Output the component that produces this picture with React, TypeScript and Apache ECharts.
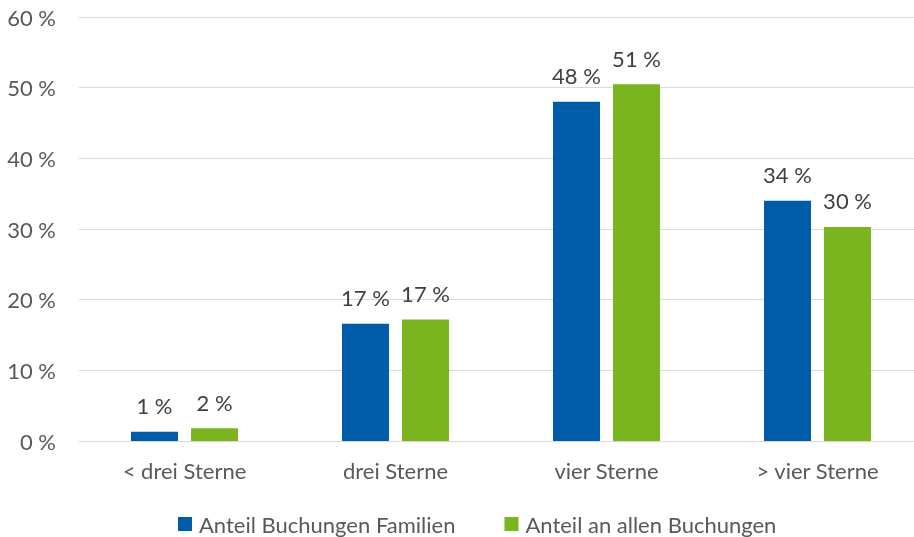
import React, { useEffect, useRef } from "react";
import * as echarts from "echarts";

const categories = ["< drei Sterne", "drei Sterne", "vier Sterne", "> vier Sterne"];
const familien = [1.3, 16.6, 48.0, 34.0];
const alle = [1.8, 17.2, 50.5, 30.3];
const seriesNames = ["Anteil Buchungen Familien", "Anteil an allen Buchungen"];

const FONT = "Lato, 'Open Sans', sans-serif";
const TEXT = "#595959";
const FS = 22;

export default function App() {
  const ref = useRef<HTMLDivElement>(null);
  useEffect(() => {
    if (!ref.current) return;
    const chart = echarts.init(ref.current, undefined, { renderer: "svg" });
    const label = {
      show: true,
      position: "top",
      distance: 15,
      color: "#404040",
      fontSize: FS,
      fontFamily: FONT,
      formatter: (p: any) => Math.round(p.value) + " %",
    };
    chart.setOption({
      animation: false,
      textStyle: { fontFamily: FONT },
      grid: { left: 79, width: 844, top: 17, bottom: 96, containLabel: false, outerBoundsMode: "none" },
      legend: {
        left: 178,
        top: 513,
        padding: 0,
        itemWidth: 14,
        itemHeight: 14,
        itemGap: 49,
        itemStyle: { borderWidth: 0 },
        icon: "rect",
        textStyle: { color: TEXT, fontSize: FS, fontFamily: FONT, padding: [0, 0, 0, 2] },
        data: seriesNames,
      },
      xAxis: {
        type: "category",
        data: categories,
        axisTick: { show: false },
        axisLine: { lineStyle: { color: "#d9d9d9", width: 1 } },
        axisLabel: { color: TEXT, fontSize: FS, fontFamily: FONT, margin: 18 },
      },
      yAxis: {
        type: "value",
        min: 0,
        max: 60,
        interval: 10,
        axisLabel: { color: TEXT, fontSize: FS, fontFamily: FONT, margin: 23, formatter: (v: number) => v + " %" },
        splitLine: { lineStyle: { color: "#d9d9d9", width: 1 } },
        axisLine: { show: false },
        axisTick: { show: false },
      },
      series: [
        {
          name: seriesNames[0],
          type: "bar",
          data: familien,
          barWidth: 47,
          barGap: "27.7%",
          itemStyle: { color: "#005ca9" },
          label,
        },
        {
          name: seriesNames[1],
          type: "bar",
          data: alle,
          barWidth: 47,
          itemStyle: { color: "#7ab51f" },
          label,
        },
      ],
    });
    return () => chart.dispose();
  }, []);
  return <div ref={ref} style={{ position: "fixed", left: 0, top: 0, width: 914, height: 537 }} />;
}
